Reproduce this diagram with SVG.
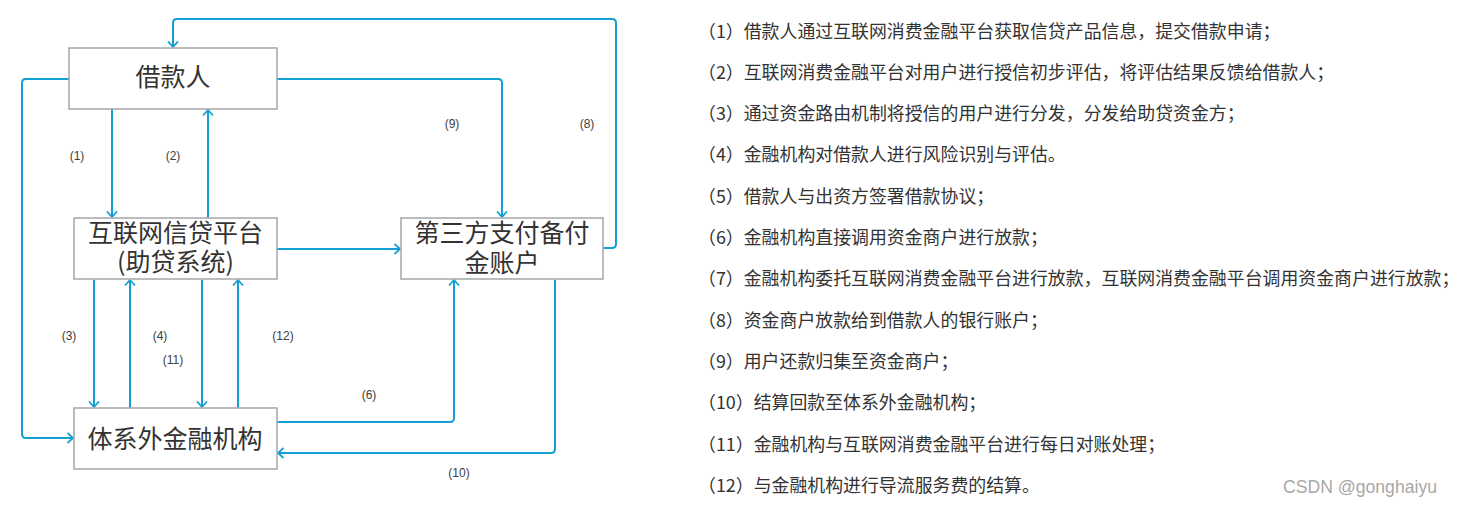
<svg xmlns="http://www.w3.org/2000/svg" width="1459" height="505" viewBox="0 0 1459 505">
<style>
.box{fill:#fff;stroke:#a6a6a6;stroke-width:1.5}
.bt{font-family:"Noto Sans CJK SC","Noto Sans",sans-serif;font-size:25px;fill:#333;text-anchor:middle}
.lb{font-family:"Liberation Sans","Noto Sans",sans-serif;font-size:12px;fill:#404040;text-anchor:middle}
.con{fill:none;stroke:#14a0d2;stroke-width:2;marker-end:url(#arr)}
.rt{font-family:"Noto Sans CJK SC",sans-serif;font-size:17.9px;fill:#333}
.wm{font-family:"Liberation Sans",sans-serif;font-size:18px;fill:#a8a8a8}
</style>
<defs>
<marker id="arr" markerUnits="userSpaceOnUse" viewBox="-1 -6 8 12" markerWidth="8" markerHeight="12" refX="5.5" refY="0" orient="auto">
<path d="M0,-5 L5.5,0 L0,5" fill="none" stroke="#14a0d2" stroke-width="1.8"/>
</marker>
</defs>
<rect width="1459" height="505" fill="#fff"/>
<g id="connectors">
<path class="con" d="M603,248 H612 Q616,248 616,244 V23 Q616,19 612,19 H177 Q173,19 173,23 V47"/>
<path class="con" d="M277,79 H498 Q502,79 502,83 V217"/>
<path class="con" d="M69,79 H26 Q22,79 22,83 V434 Q22,438 26,438 H73"/>
<path class="con" d="M112,109 V217"/>
<path class="con" d="M208,218 V110"/>
<path class="con" d="M277,249 H400"/>
<path class="con" d="M94,280 V407"/>
<path class="con" d="M130,408 V280"/>
<path class="con" d="M202,280 V407"/>
<path class="con" d="M238,408 V280"/>
<path class="con" d="M277,422 H450 Q454,422 454,418 V280"/>
<path class="con" d="M555,280 V449 Q555,453 551,453 H278"/>
<g id="labels">
<text class="lb" x="77" y="160">(1)</text>
<text class="lb" x="173" y="160">(2)</text>
<text class="lb" x="452" y="128">(9)</text>
<text class="lb" x="587" y="128">(8)</text>
<text class="lb" x="69" y="340">(3)</text>
<text class="lb" x="160" y="340">(4)</text>
<text class="lb" x="173" y="364">(11)</text>
<text class="lb" x="283" y="340">(12)</text>
<text class="lb" x="369" y="399">(6)</text>
<text class="lb" x="459" y="477">(10)</text>
</g>
</g>
<g id="borrower">
<rect class="box" x="69" y="48" width="208" height="61"/>
<text class="bt" x="173" y="86">借款人</text>
</g>
<g id="platform">
<rect class="box" x="74" y="218" width="203" height="61"/>
<text class="bt" x="175.5" y="241.5">互联网信贷平台<tspan x="175.5" dy="29">(助贷系统)</tspan></text>
</g>
<g id="thirdparty">
<rect class="box" x="401" y="218" width="202" height="61"/>
<text class="bt" x="502" y="242">第三方支付备付<tspan x="502" dy="30">金账户</tspan></text>
</g>
<g id="institution">
<rect class="box" x="74" y="408" width="203" height="61"/>
<text class="bt" x="175" y="447.5">体系外金融机构</text>
</g>
<g id="notes">
<text class="rt" x="698" y="37.5">（1）借款人通过互联网消费金融平台获取信贷产品信息，提交借款申请；</text>
<text class="rt" x="698" y="78.8">（2）互联网消费金融平台对用户进行授信初步评估，将评估结果反馈给借款人；</text>
<text class="rt" x="698" y="120.1">（3）通过资金路由机制将授信的用户进行分发，分发给助贷资金方；</text>
<text class="rt" x="698" y="161.4">（4）金融机构对借款人进行风险识别与评估。</text>
<text class="rt" x="698" y="202.7">（5）借款人与出资方签署借款协议；</text>
<text class="rt" x="698" y="244">（6）金融机构直接调用资金商户进行放款；</text>
<text class="rt" x="698" y="285.3">（7）金融机构委托互联网消费金融平台进行放款，互联网消费金融平台调用资金商户进行放款；</text>
<text class="rt" x="698" y="326.6">（8）资金商户放款给到借款人的银行账户；</text>
<text class="rt" x="698" y="367.9">（9）用户还款归集至资金商户；</text>
<text class="rt" x="698" y="409.2">（10）结算回款至体系外金融机构；</text>
<text class="rt" x="698" y="450.5">（11）金融机构与互联网消费金融平台进行每日对账处理；</text>
<text class="rt" x="698" y="491.8">（12）与金融机构进行导流服务费的结算。</text>
</g>
<text class="wm" x="1283" y="493" textLength="154" lengthAdjust="spacingAndGlyphs">CSDN @gonghaiyu</text>
</svg>
